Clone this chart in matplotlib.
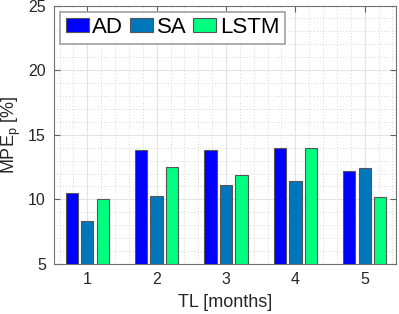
import matplotlib
matplotlib.use("Agg")
import matplotlib.pyplot as plt
import numpy as np
from matplotlib.ticker import MultipleLocator

plt.rcParams['font.family'] = ['Liberation Sans', 'DejaVu Sans']
plt.rcParams['mathtext.fontset'] = 'custom'
plt.rcParams['mathtext.rm'] = 'Liberation Sans'
plt.rcParams['mathtext.it'] = 'Liberation Sans'

groups = [1, 2, 3, 4, 5]
series_names = ["AD", "SA", "LSTM"]
ad = [10.5, 13.85, 13.85, 14.0, 12.2]
sa = [8.33, 10.27, 11.12, 11.45, 12.42]
lstm = [10.0, 12.52, 11.87, 13.95, 10.2]
colors = ["#0000FF", "#0077BB", "#00FF80"]

fig = plt.figure(figsize=(3.99, 3.14), dpi=100)
ax = fig.add_axes([54.3/399, 1-264/314, (395.7-54.3)/399, (264-5.5)/314])

x = np.array(groups, dtype=float)
width = 0.178
offsets = [-0.222, 0.0, 0.222]
for vals, off, c, name in zip([ad, sa, lstm], offsets, colors, series_names):
    ax.bar(x + off, np.array(vals) - 5, bottom=5, width=width, color=c,
           edgecolor="#555555", linewidth=0.8, label=name, zorder=3)

ax.set_xlim(0.524, 5.447)
ax.set_ylim(5, 25)
ax.set_xticks(groups)
ax.set_yticks([5, 10, 15, 20, 25])
ax.xaxis.set_minor_locator(MultipleLocator(0.2))
ax.yaxis.set_minor_locator(MultipleLocator(1))
ax.grid(True, which='major', color='#e3e3e3', linewidth=0.8, linestyle='-', zorder=0)
ax.grid(True, which='minor', color='#c8c8c8', linewidth=0.6, linestyle=(0, (1, 2.5)), zorder=0)
ax.set_axisbelow(True)

ax.tick_params(which='major', direction='in', length=4, width=0.8, color='#606060',
               top=True, right=True, labelsize=11.5, labelcolor='#262626', pad=6)
ax.tick_params(which='minor', length=0, top=True, right=True)
for s in ax.spines.values():
    s.set_color('#707070')
    s.set_linewidth(0.8)

ax.set_xlabel("TL [months]", fontsize=13, color='#262626', labelpad=5)
ax.set_ylabel("MPE$_{\\mathrm{p}}$ [%]", fontsize=13, color='#262626', labelpad=4)

leg = ax.legend(loc='upper left', bbox_to_anchor=(5.7/341.4, 1 - 6/258.5), borderaxespad=0,
                ncol=3, fontsize=16, handlelength=1.05, handleheight=0.6,
                handletextpad=0.15, columnspacing=0.3, borderpad=0.25,
                fancybox=False, framealpha=1, edgecolor='#a0a0a0')
leg.get_frame().set_linewidth(1.2)
for h in leg.legend_handles:
    h.set_edgecolor('#555555')

fig.savefig("out.png", dpi=100)
